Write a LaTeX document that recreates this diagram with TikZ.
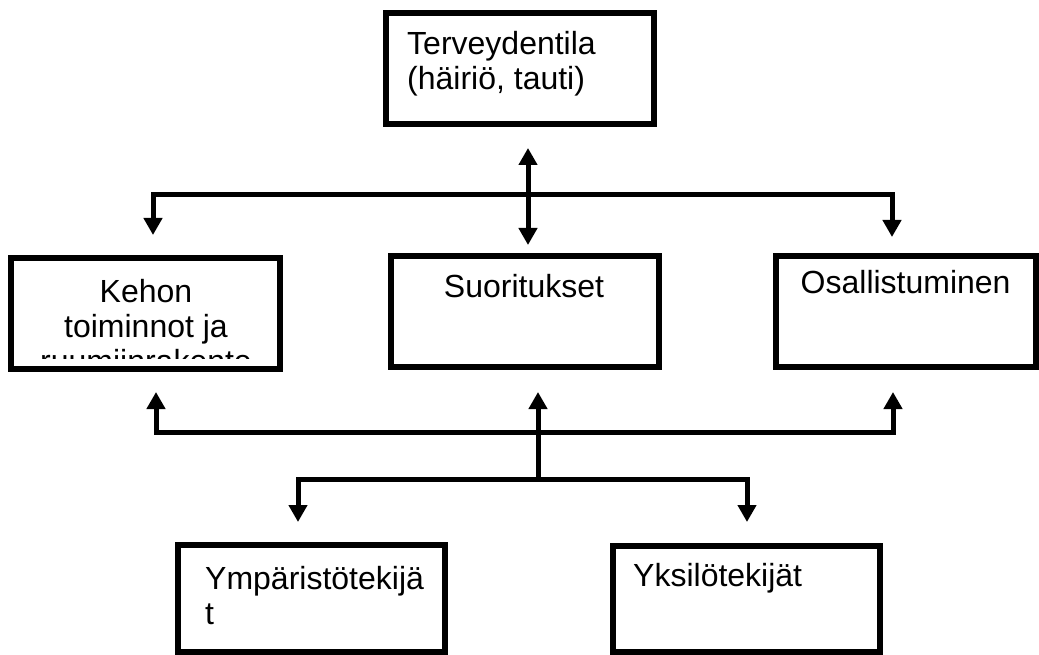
\documentclass[tikz,border=0pt]{standalone}
\usepackage{fontspec}
\setmainfont{Liberation Sans}
\usetikzlibrary{arrows.meta}

\begin{document}
\begin{tikzpicture}[
        x=1pt, y=1pt,
        >={Triangle[width=18pt,length=17pt]},
        box/.style={draw, line width=6pt, inner sep=0pt},
        txt/.style={inner sep=0pt, font=\fontsize{32}{35}\selectfont},
        conn/.style={draw, line width=5pt, <->},
        up/.style={draw, line width=5pt, ->}
        ]
    \useasboundingbox (0,0) rectangle (1039,-655);

    \node[box, minimum width=268pt, minimum height=111pt] (tv) at (520,-68.5) {};
    \node[box, minimum width=269pt, minimum height=111pt] (ke) at (145.5,-313.5) {};
    \node[box, minimum width=268pt, minimum height=111pt] (su) at (525,-311.5) {};
    \node[box, minimum width=260pt, minimum height=111pt] (os) at (906,-311.5) {};
    \node[box, minimum width=267pt, minimum height=107pt] (ym) at (311.5,-598.5) {};
    \node[box, minimum width=267pt, minimum height=106pt] (yk) at (746.5,-599) {};

    \node[txt, anchor=base west, align=left] (tvtext) at ([xshift=24pt,yshift=-80pt]tv.north west) {Terveydentila\\(häiriö, tauti)};
    \begin{scope}
        \clip (ke.north west) rectangle ([yshift=14pt]ke.south east);
        \node[txt, anchor=base, align=center] (ketext) at ([xshift=0.5pt,yshift=-117pt]ke.north) {Kehon\\toiminnot ja\\ruumiinrakente};
    \end{scope}
    \node[txt, anchor=base] (sutext) at ([xshift=-1pt,yshift=-45pt]su.north) {Suoritukset};
    \node[txt, anchor=base west] (ostext) at ([xshift=27.5pt,yshift=-40pt]os.north west) {Osallistuminen};
    \node[txt, anchor=base west, align=left] (ymtext) at ([xshift=30pt,yshift=-82pt]ym.north west) {Ympäristötekijä\\t};
    \node[txt, anchor=base west] (yktext) at ([xshift=23pt,yshift=-43pt]yk.north west) {Yksilötekijät};

    \coordinate (bt) at (528,-195);
    \coordinate (bm) at (538,-432);
    \coordinate (bl) at (538,-479);

    \draw[conn, shorten <=21pt, shorten >=8pt] ([xshift=8pt]tv.south) -- ([xshift=3pt]su.north);
    \draw[conn, shorten <=20pt, shorten >=16pt] ([xshift=7.5pt]ke.north) |- (bt) -| ([xshift=-14pt]os.north);
    \draw[conn, shorten <=20pt, shorten >=22pt] ([xshift=10.5pt]ke.south) |- (bm) -| ([xshift=-13pt]os.south);
    \draw[up, shorten >=22pt] (bl) -- ([xshift=13pt]su.south);
    \draw[conn, shorten <=20pt, shorten >=21pt] ([xshift=-13.5pt]ym.north) |- (bl) -| ([xshift=0.5pt]yk.north);
\end{tikzpicture}
\end{document}
